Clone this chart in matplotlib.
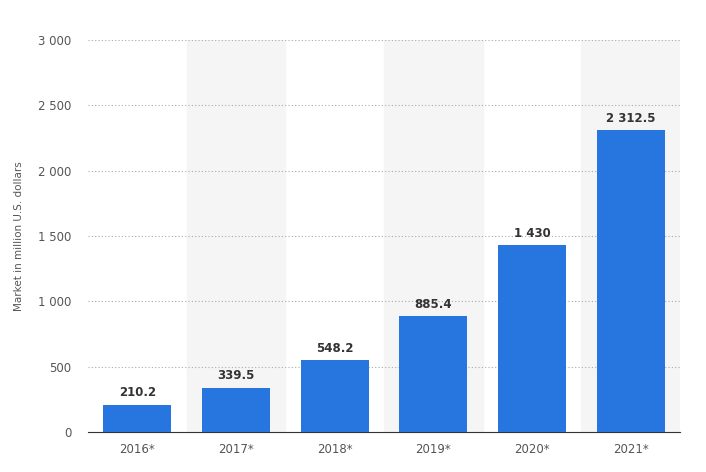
import matplotlib.pyplot as plt
import numpy as np

years = ["2016*", "2017*", "2018*", "2019*", "2020*", "2021*"]
values = [210.2, 339.5, 548.2, 885.4, 1430, 2312.5]
labels = ["210.2", "339.5", "548.2", "885.4", "1 430", "2 312.5"]

fig = plt.figure(figsize=(7.06, 4.72), dpi=100)
ax = fig.add_axes([88/706, 40/472, 592/706, 392/472])

x = np.arange(len(years))
# alternating background bands
for i in x:
    if i % 2 == 1:
        ax.axvspan(i - 0.5, i + 0.5, color="#f5f5f5", zorder=0)

ax.bar(x, values, width=0.69, color="#2775de", zorder=3)
for xi, v, lab in zip(x, values, labels):
    ax.text(xi, v + 40, lab, ha="center", va="bottom", fontsize=8.5,
            fontweight="bold", color="#333333", zorder=4)

ax.set_xlim(-0.5, len(years) - 0.5)
ax.set_ylim(0, 3000)
ax.set_xticks(x)
ax.set_xticklabels(years)
yt = np.arange(0, 3001, 500)
ax.set_yticks(yt)
ax.set_yticklabels(["{:,}".format(v).replace(",", " ") for v in yt])
ax.yaxis.grid(True, linestyle=(0, (1, 2)), color="#aaaaaa", linewidth=0.8, zorder=1)
ax.set_axisbelow(True)
for s in ["top", "right", "left"]:
    ax.spines[s].set_visible(False)
ax.spines["bottom"].set_color("#333333")
ax.tick_params(axis="both", length=0, colors="#555555", labelsize=8.5)
ax.tick_params(axis="x", pad=8)
ax.tick_params(axis="y", pad=12)
ax.set_ylabel("Market in million U.S. dollars", fontsize=7.5, color="#555555", labelpad=10)

fig.savefig("out.png", dpi=100)
